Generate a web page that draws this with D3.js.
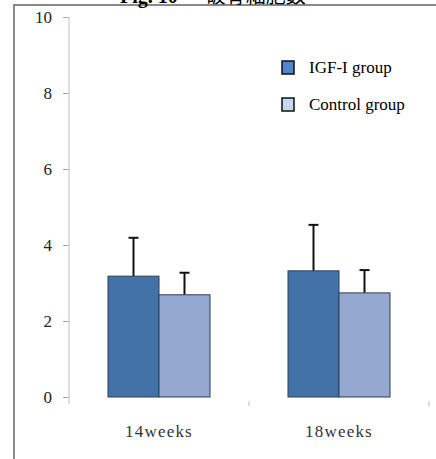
<!DOCTYPE html>
<html>
<head>
<meta charset="utf-8">
<script src="https://cdn.jsdelivr.net/npm/d3@7"></script>
<style>
  body { margin: 0; background: #fff; }
  svg { display: block; }
</style>
</head>
<body>
<div id="chart"></div>
<script>
const categories = ["14weeks", "18weeks"];
const groups = ["IGF-I group", "Control group"];
const igfValues = [3.18, 3.32];
const igfErrors = [1.01, 1.21];
const controlValues = [2.69, 2.74];
const controlErrors = [0.58, 0.6];
const yTicks = [0, 2, 4, 6, 8, 10];

const W = 436, H = 459;
const margin = {top: 17, right: 7, bottom: 62, left: 69};
const serif = "'Liberation Serif', 'Times New Roman', serif";

const svg = d3.select("#chart").append("svg")
    .attr("width", W)
    .attr("height", H);

// frame lines (top + left)
svg.append("line").attr("x1", 14).attr("x2", W).attr("y1", 5).attr("y2", 5)
    .attr("stroke", "#8a8a8a").attr("stroke-width", 2);
svg.append("line").attr("x1", 14).attr("x2", 14).attr("y1", 4).attr("y2", H)
    .attr("stroke", "#8a8a8a").attr("stroke-width", 2);

// title, cut by the top edge as in the source
svg.append("text")
    .attr("x", 120).attr("y", 3)
    .attr("font-family", serif)
    .attr("font-size", 20)
    .attr("fill", "#000")
    .call(t => {
        t.append("tspan").attr("font-weight", "bold").text("Fig. 10");
        t.append("tspan").attr("dx", 28).attr("font-family", "'Noto Sans CJK JP'").text("破骨細胞数");
    });

const x = d3.scaleBand()
    .domain(categories)
    .range([margin.left, W - margin.right]);

const inner = d3.scaleBand()
    .domain(groups)
    .range([0, 102]);

const y = d3.scaleLinear()
    .domain([0, 10])
    .range([397, margin.top]);

// y axis
const yAxis = d3.axisLeft(y).tickValues(yTicks).tickSize(6).tickPadding(11);
const yG = svg.append("g")
    .attr("transform", `translate(${margin.left},0)`)
    .call(yAxis);
yG.select(".domain").remove();
yG.selectAll(".tick line").attr("stroke", "#aaa");
yG.selectAll(".tick text")
    .attr("font-family", serif)
    .attr("font-size", 17)
    .attr("fill", "#222");
svg.append("line")
    .attr("x1", margin.left).attr("x2", margin.left)
    .attr("y1", y(10)).attr("y2", 404)
    .attr("stroke", "#bbb").attr("stroke-width", 1);

// x ticks (category boundaries)
svg.append("g").selectAll("line")
    .data(categories)
    .join("line")
    .attr("x1", d => x(d) + x.bandwidth())
    .attr("x2", d => x(d) + x.bandwidth())
    .attr("y1", 401).attr("y2", 406)
    .attr("stroke", "#bbb");

svg.append("g").selectAll("text")
    .data(categories)
    .join("text")
    .attr("x", d => x(d) + x.bandwidth() / 2)
    .attr("y", 437)
    .attr("text-anchor", "middle")
    .attr("font-family", serif)
    .attr("font-size", 17)
    .attr("letter-spacing", 1.2)
    .attr("fill", "#333")
    .text(d => d);

const data = [];
categories.forEach((c, i) => {
    data.push({cat: c, group: groups[0], value: igfValues[i], err: igfErrors[i], fill: "#4372a8"});
    data.push({cat: c, group: groups[1], value: controlValues[i], err: controlErrors[i], fill: "#94a8d0"});
});

const xPos = d => x(d.cat) + (x.bandwidth() - 102) / 2 + inner(d.group);

// error bars
const eb = svg.append("g");
eb.selectAll("line.v")
    .data(data)
    .join("line")
    .attr("class", "v")
    .attr("x1", d => xPos(d) + inner.bandwidth() / 2)
    .attr("x2", d => xPos(d) + inner.bandwidth() / 2)
    .attr("y1", d => y(d.value))
    .attr("y2", d => y(d.value + d.err))
    .attr("stroke", "#111").attr("stroke-width", 2);
eb.selectAll("line.h")
    .data(data)
    .join("line")
    .attr("class", "h")
    .attr("x1", d => xPos(d) + inner.bandwidth() / 2 - 5)
    .attr("x2", d => xPos(d) + inner.bandwidth() / 2 + 5)
    .attr("y1", d => y(d.value + d.err))
    .attr("y2", d => y(d.value + d.err))
    .attr("stroke", "#111").attr("stroke-width", 2);

// bars
svg.append("g").selectAll("rect")
    .data(data)
    .join("rect")
    .attr("x", d => xPos(d))
    .attr("y", d => y(d.value))
    .attr("width", inner.bandwidth())
    .attr("height", d => y(0) - y(d.value))
    .attr("fill", d => d.fill)
    .attr("stroke", "#2f3f55")
    .attr("stroke-width", 1);

// legend
const legendFill = ["#4f86cf", "#c6d8f0"];
const lg = svg.append("g").selectAll("g")
    .data(groups)
    .join("g")
    .attr("transform", (d, i) => `translate(282,${61 + i * 37})`);
lg.append("rect")
    .attr("width", 12).attr("height", 13)
    .attr("fill", (d, i) => legendFill[i])
    .attr("stroke", "#111").attr("stroke-width", 1.5);
lg.append("text")
    .attr("x", 27).attr("y", 12)
    .attr("font-family", serif)
    .attr("font-size", 17)
    .attr("fill", "#000")
    .text(d => d);
</script>
</body>
</html>
